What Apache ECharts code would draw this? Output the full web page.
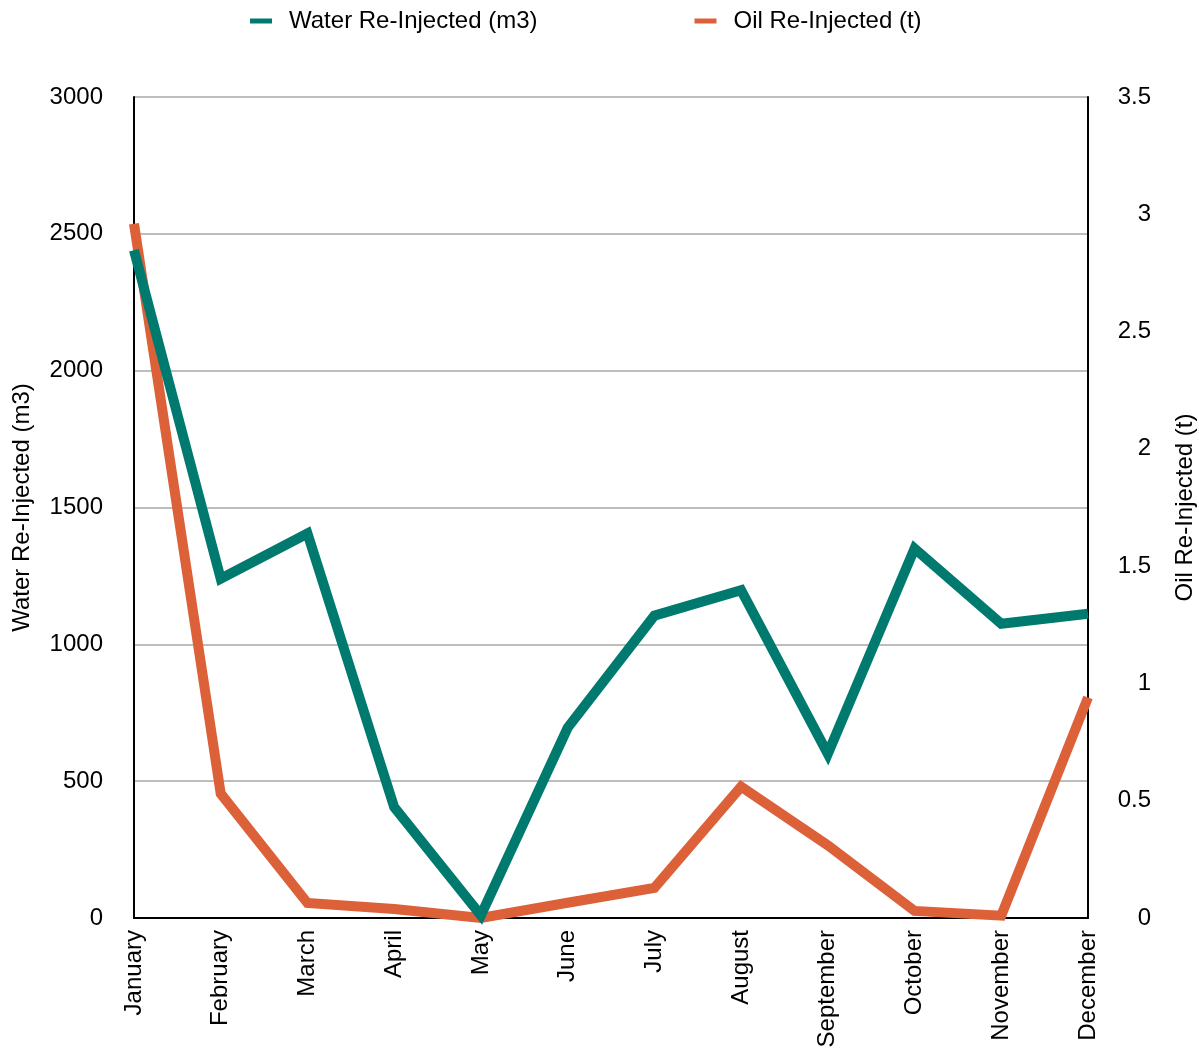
<!DOCTYPE html>
<html>
<head>
<meta charset="utf-8">
<title>Water and Oil Re-Injected</title>
<script src="https://cdn.jsdelivr.net/npm/echarts@6/dist/echarts.min.js"></script>
<style>
  html, body { margin: 0; padding: 0; background: #fff; overflow: hidden; }
  #chart { width: 1199px; height: 1050px; }
</style>
</head>
<body>
<div id="chart"></div>
<script>
// Monthly re-injection volumes
const months = ['January', 'February', 'March', 'April', 'May', 'June',
  'July', 'August', 'September', 'October', 'November', 'December'];
const waterReInjected = [2440, 1240, 1405, 405, 10, 695, 1105, 1198, 600, 1350, 1075, 1112];
const oilReInjected = [2.96, 0.53, 0.064, 0.038, 0, 0.065, 0.128, 0.56, 0.31, 0.03, 0.01, 0.94];

const waterName = 'Water Re-Injected (m3)';
const oilName = 'Oil Re-Injected (t)';

const FONT = '"Liberation Sans", Arial, Helvetica, sans-serif';
const FS = 24;
const TEAL = '#007A6E';
const ORANGE = '#DC6038';

const chart = echarts.init(document.getElementById('chart'), null, { renderer: 'canvas' });

chart.setOption({
  animation: false,
  backgroundColor: '#ffffff',
  textStyle: { fontFamily: FONT, color: '#000' },
  legend: {
    top: 4,
    left: 245,
    itemGap: 157,
    itemWidth: 22,
    itemHeight: 5,
    icon: 'rect',
    textStyle: { fontFamily: FONT, fontSize: FS, color: '#000', padding: [0, 0, 0, 12] },
    data: [
      { name: waterName, itemStyle: { color: TEAL } },
      { name: oilName, itemStyle: { color: ORANGE } }
    ]
  },
  grid: {
    left: 134, right: 111, top: 97, bottom: 132,
    containLabel: false,
    outerBoundsMode: 'none'
  },
  xAxis: {
    type: 'category',
    data: months,
    boundaryGap: false,
    axisLine: { show: true, lineStyle: { color: '#000', width: 2 } },
    axisTick: { show: false },
    axisLabel: {
      rotate: 90,
      margin: 12,
      fontFamily: FONT,
      fontSize: FS,
      color: '#000'
    },
    splitLine: { show: false }
  },
  yAxis: [
    {
      type: 'value',
      min: 0,
      max: 3000,
      interval: 500,
      position: 'left',
      name: waterName,
      nameLocation: 'middle',
      nameRotate: 90,
      nameGap: 100,
      nameTextStyle: { fontFamily: FONT, fontSize: FS, color: '#000' },
      axisLine: { show: true, lineStyle: { color: '#000', width: 2 } },
      axisTick: { show: false },
      axisLabel: {
        margin: 31,
        fontFamily: FONT,
        fontSize: FS,
        color: '#000',
        formatter: (v) => String(v)
      },
      splitLine: { show: true, lineStyle: { color: '#BDBDBD', width: 2 } }
    },
    {
      type: 'value',
      min: 0,
      max: 3.5,
      interval: 0.5,
      position: 'right',
      name: oilName,
      nameLocation: 'middle',
      nameRotate: 90,
      nameGap: 85,
      nameTextStyle: { fontFamily: FONT, fontSize: FS, color: '#000' },
      axisLine: { show: true, lineStyle: { color: '#000', width: 2 } },
      axisTick: { show: false },
      axisLabel: {
        margin: 63,
        align: 'right',
        fontFamily: FONT,
        fontSize: FS,
        color: '#000',
        formatter: (v) => String(v)
      },
      splitLine: { show: false }
    }
  ],
  series: [
    {
      name: oilName,
      type: 'line',
      yAxisIndex: 1,
      data: oilReInjected,
      showSymbol: false,
      clip: false,
      z: 2,
      lineStyle: { color: ORANGE, width: 10, join: 'miter', cap: 'butt' },
      itemStyle: { color: ORANGE }
    },
    {
      name: waterName,
      type: 'line',
      yAxisIndex: 0,
      data: waterReInjected,
      showSymbol: false,
      clip: false,
      z: 3,
      lineStyle: { color: TEAL, width: 10, join: 'miter', cap: 'butt' },
      itemStyle: { color: TEAL }
    }
  ]
});
</script>
</body>
</html>
